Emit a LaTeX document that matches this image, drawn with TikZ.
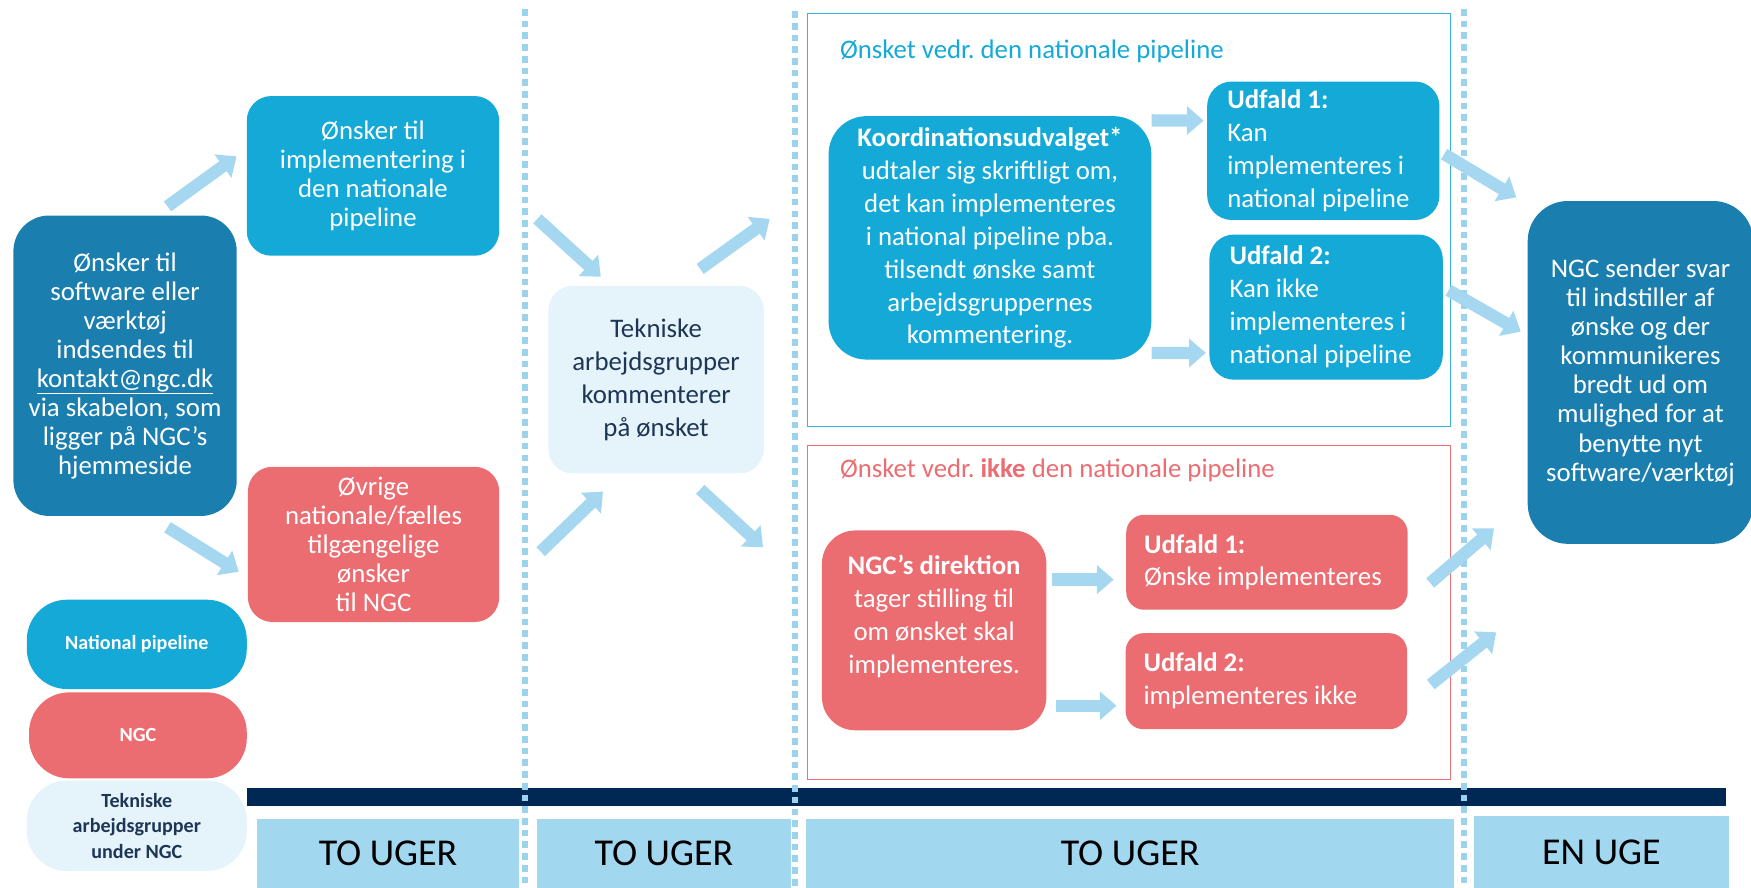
\documentclass[tikz,border=0pt]{standalone}
\usepackage{fontspec}
\setmainfont{Carlito}
\usetikzlibrary{arrows.meta}
\definecolor{srcblue}{HTML}{1A7FAE}
\definecolor{npblue}{HTML}{14A9D7}
\definecolor{ngcred}{HTML}{EB6D71}
\definecolor{tekfill}{HTML}{E5F4FA}
\definecolor{teknavy}{HTML}{1F3556}
\definecolor{barnavy}{HTML}{002855}
\definecolor{weekblue}{HTML}{A2D7F0}
\definecolor{dotblue}{HTML}{9BD2EE}
\definecolor{arrowblue}{HTML}{A5D8F0}
\definecolor{frameblue}{HTML}{36B4E0}
\definecolor{framered}{HTML}{EC7074}
\newcommand{\boxfont}{\fontsize{24}{26}\selectfont}
\newcommand{\wideboxfont}{\fontsize{24}{29.5}\selectfont}
\newcommand{\legendfont}{\fontsize{18}{23}\selectfont\bfseries}
\frenchspacing
\tikzset{
  box/.style={rounded corners=22pt, align=center, text=white, inner sep=0pt, font=\boxfont},
  srcbox/.style={box, fill=srcblue, rounded corners=32pt},
  npbox/.style={box, fill=npblue},
  ngcbox/.style={box, fill=ngcred},
  tekbox/.style={box, fill=tekfill, text=teknavy, font=\wideboxfont},
  outcome/.style={box, font=\wideboxfont, align=flush left, inner ysep=0pt},
  legend/.style={rounded corners=36pt, align=center, inner sep=0pt, font=\legendfont,
    minimum width=197pt, minimum height=80pt},
  frame/.style={draw, line width=1.4pt, inner sep=0pt, minimum width=576pt},
  title/.style={anchor=west, inner sep=0pt, font=\boxfont},
  weekbox/.style={fill=weekblue, inner sep=0pt, font=\fontsize{34}{40}\selectfont, text=black},
  fatarrow/.style={draw=arrowblue, line width=11pt, -{Triangle[width=25pt,length=15pt]}},
  dotline/.style={draw=dotblue, line width=5pt, dash pattern=on 6pt off 4.5pt}
}
\begin{document}
\begin{tikzpicture}[x=1pt, y=-1pt]
\useasboundingbox (0,0) rectangle (1568,795);
\clip (0,0) rectangle (1568,795);

% first column
\node[srcbox, minimum width=200pt, minimum height=269pt] (src) at (112,327.5)
  {Ønsker til\\ software eller\\ værktøj\\ indsendes til\\ \underline{kontakt@ngc.dk}\\ via skabelon, som\\ ligger på NGC’s\\ hjemmeside};
\node[npbox, minimum width=226pt, minimum height=143pt] (natwish) at (334,157.5)
  {Ønsker til\\ implementering i\\ den nationale\\ pipeline};
\node[ngcbox, minimum width=225pt, minimum height=139pt] (ngcwish) at (334.5,487.5)
  {Øvrige\\ nationale/fælles\\ tilgængelige\\ ønsker\\ til NGC};

% legend
\node[legend, fill=npblue, text=white] (lgnp) at (122.5,577) {National pipeline};
\node[legend, fill=ngcred, text=white, minimum width=195pt, minimum height=77pt] (lgngc) at (123.5,658.5) {NGC};
\node[legend, fill=tekfill, text=teknavy, minimum height=81pt] (lgtek) at (122.5,739.5)
  {Tekniske\\ arbejdsgrupper\\ under NGC};

% working groups
\node[tekbox, minimum width=193pt, minimum height=168pt] (tek) at (587.5,340)
  {Tekniske\\ arbejdsgrupper\\ kommenterer\\ på ønsket};

% national pipeline frame
\node[frame, draw=frameblue, minimum height=370pt] (npframe) at (1011,197) {};
\node[title, text=npblue] (nptitle) at (752,46) {Ønsket vedr. den nationale pipeline};
\node[npbox, font=\wideboxfont, rounded corners=34pt, minimum width=289pt, minimum height=218pt] (koord) at (886.5,213)
  {\textbf{Koordinationsudvalget*}\\ udtaler sig skriftligt om,\\ det kan implementeres\\ i national pipeline pba.\\ tilsendt ønske samt\\ arbejdsgruppernes\\ kommentering.};
\node[outcome, fill=npblue, inner xsep=18pt, text width=172pt, minimum height=124pt] (npout1) at (1185,135)
  {\textbf{Udfald 1:}\\ Kan\\ implementeres i\\ national pipeline};
\node[outcome, fill=npblue, inner xsep=18pt, text width=173pt, minimum height=130pt] (npout2) at (1187.5,275)
  {\textbf{Udfald 2:}\\ Kan ikke\\ implementeres i\\ national pipeline};

% NGC frame
\node[frame, draw=framered, minimum height=299pt] (ngcframe) at (1011,548.5) {};
\node[title, text=ngcred] (ngctitle) at (752,421) {Ønsket vedr. \textbf{ikke} den nationale pipeline};
\node[ngcbox, font=\wideboxfont, rounded corners=30pt, minimum width=201pt, minimum height=179pt] (dir) at (836.5,564.5)
  {\textbf{NGC’s direktion}\\ tager stilling til\\ om ønsket skal\\ implementeres.\\ \mbox{}};
\node[outcome, fill=ngcred, rounded corners=16pt, inner xsep=16pt, text width=220pt, minimum height=85pt] (ngcout1) at (1134.5,503.5)
  {\textbf{Udfald 1:}\\ Ønske implementeres};
\node[outcome, fill=ngcred, rounded corners=16pt, inner xsep=16pt, text width=220pt, minimum height=86pt] (ngcout2) at (1134,610)
  {\textbf{Udfald 2:}\\ implementeres ikke};

% answer
\node[srcbox, rounded corners=36pt, minimum width=202pt, minimum height=307pt] (answer) at (1469,333.5)
  {NGC sender svar\\ til indstiller af\\ ønske og der\\ kommunikeres\\ bredt ud om\\ mulighed for at\\ benytte nyt\\ software/værktøj};

% time line
\fill[barnavy] (221,706) rectangle (1546,722);
\node[weekbox, minimum width=235pt, minimum height=62pt] (week1) at (347.5,764) {TO UGER};
\node[weekbox, minimum width=227pt, minimum height=62pt] (week2) at (594.5,764) {TO UGER};
\node[weekbox, minimum width=580pt, minimum height=62pt] (week3) at (1012,764) {TO UGER};
\node[weekbox, minimum width=228pt, minimum height=64pt] (week4) at (1434,763) {EN UGE};
\draw[dotline] (470,8) -- (470,795);
\draw[dotline] (712,10) -- (712,795);
\draw[dotline] (1311,8) -- (1311,795);

% arrows
\draw[fatarrow] ([xshift=38pt,yshift=8pt]src.north) -- ([xshift=-9pt,yshift=17.5pt]natwish.west);
\draw[fatarrow] ([xshift=38pt,yshift=-10pt]src.south) -- ([xshift=-8pt,yshift=-24.5pt]ngcwish.west);
\draw[fatarrow] ([xshift=34pt,yshift=-38.5pt]natwish.east) -- ([xshift=-49.5pt,yshift=8pt]tek.north);
\draw[fatarrow] ([xshift=37pt,yshift=-6.5pt]ngcwish.east) -- ([xshift=-47.5pt,yshift=-16pt]tek.south);
\draw[fatarrow] ([xshift=39.5pt,yshift=15pt]tek.north) -- ([xshift=-33pt,yshift=1pt]npframe.west);
\draw[fatarrow] ([xshift=39.5pt,yshift=-14pt]tek.south) -- ([xshift=-39pt,yshift=58.5pt]ngcframe.west);
\draw[fatarrow] ([yshift=-4pt]koord.north east) -- ([xshift=-3pt,yshift=27pt]npout1.west);
\draw[fatarrow] ([yshift=6pt]koord.south east) -- ([xshift=-3pt,yshift=-41pt]npout2.west);
\draw[fatarrow] ([xshift=4pt,yshift=-3pt]npout1.east) -- ([xshift=-10pt,yshift=3pt]answer.north west);
\draw[fatarrow] ([xshift=5pt,yshift=15pt]npout2.east) -- ([xshift=-6pt,yshift=36.5pt]answer.west);
\draw[fatarrow] ([xshift=5pt,yshift=45.5pt]dir.east) -- ([xshift=-11pt,yshift=-15.5pt]ngcout1.west);
\draw[fatarrow] ([xshift=8pt,yshift=-67.5pt]dir.east) -- ([xshift=-8pt,yshift=-22pt]ngcout2.west);
\draw[fatarrow] ([xshift=20pt,yshift=-18.5pt]ngcout1.east) -- ([xshift=-30pt,yshift=14pt]answer.south west);
\draw[fatarrow] ([xshift=21pt,yshift=-3pt]ngcout2.east) -- ([xshift=-28pt,yshift=-79pt]answer.south west);
\end{tikzpicture}
\end{document}
